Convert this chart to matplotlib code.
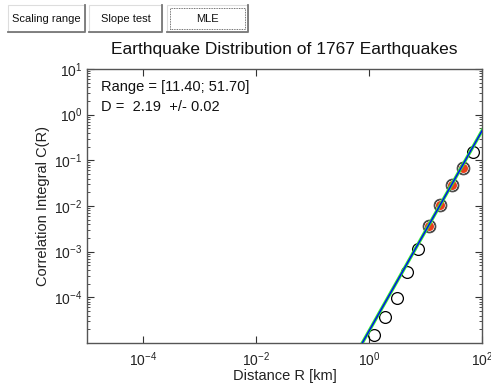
import matplotlib
matplotlib.use("Agg")
import matplotlib.pyplot as plt
import numpy as np
from matplotlib.patches import Rectangle
from matplotlib.lines import Line2D
from matplotlib.ticker import LogLocator, NullLocator, NullFormatter, FixedLocator, FuncFormatter

plt.rcParams['font.family'] = ['Liberation Sans', 'DejaVu Sans']
plt.rcParams['mathtext.fontset'] = 'custom'
plt.rcParams['mathtext.rm'] = 'Liberation Sans'
plt.rcParams['mathtext.it'] = 'Liberation Sans'

# data
r_values = [1.24, 1.94, 3.1, 4.76, 7.3, 11.5, 18.1, 29.4, 45.4, 69.3]
c_values = [1.5e-5, 3.8e-5, 9.5e-5, 3.5e-4, 1.16e-3, 3.7e-3, 0.0105, 0.0288, 0.069, 0.155]
range_lo, range_hi = 11.40, 51.70
slope_D = 2.19
slope_err = 0.02
fit_anchor_r, fit_anchor_c = 18.1, 0.0105
x_ticks = [1e-4, 1e-2, 1e0, 1e2]
y_ticks = [1e-4, 1e-3, 1e-2, 1e-1, 1e0, 1e1]
button_labels = ["Scaling range", "Slope test", "MLE"]
title = "Earthquake Distribution of 1767 Earthquakes"

W, H = 491, 385
fig = plt.figure(figsize=(W/100, H/100), dpi=100)
ax = fig.add_axes([87/W, 1-343/H, 395/W, 274/H])

r = np.array(r_values)
c = np.array(c_values)
ax.plot(r, c, 'o', mfc='none', mec='black', ms=8.5, mew=0.9, zorder=3)
sel = (r >= range_lo) & (r <= range_hi)
ax.plot(r[sel], c[sel], 'o', mfc='none', mec='#555555', ms=9, mew=0.9, zorder=4)
ax.plot(r[sel], c[sel], 'o', color='#e8401c', ms=6.5, mew=0, zorder=5)

xf = np.array([1e-2, 1e3])
yf = fit_anchor_c * (xf / fit_anchor_r) ** slope_D
ax.plot(xf, yf, color='#33ee33', lw=2.4, zorder=6)
ax.plot(xf, yf, color='#0000ff', lw=1.0, zorder=7)

ax.set_xscale('log')
ax.set_yscale('log')
ax.set_xlim(1e-5, 1e2)
ax.set_ylim(1e-5, 1e1)
ax.xaxis.set_major_locator(FixedLocator(x_ticks))
ax.xaxis.set_minor_locator(NullLocator())
ax.yaxis.set_major_locator(FixedLocator(y_ticks))
ax.yaxis.set_minor_locator(LogLocator(base=10, subs=np.arange(2, 10), numticks=20))
ax.yaxis.set_minor_formatter(NullFormatter())

def fmt(v, pos):
    e = int(round(np.log10(v)))
    return r'$10^{%d}$' % e
ax.xaxis.set_major_formatter(FuncFormatter(fmt))
ax.yaxis.set_major_formatter(FuncFormatter(fmt))

ax.tick_params(which='both', direction='in', top=True, right=True, colors='#333333',
               labelcolor='#222222', labelsize=10)
ax.tick_params(which='major', length=5, width=0.8)
ax.tick_params(which='minor', length=2.5, width=0.6)
ax.tick_params(axis='x', pad=5)
for s in ax.spines.values():
    s.set_color('#555555')
    s.set_linewidth(1.0)

ax.set_xlabel('Distance R [km]', fontsize=10.5, color='#222222', labelpad=0)
ax.set_ylabel('Correlation Integral C(R)', fontsize=10.5, color='#222222', labelpad=3)
ax.set_title(title, fontsize=12.5, color='#111111', pad=11)

ax.text(0.036, 0.935, 'Range = [%.2f; %.2f]' % (range_lo, range_hi), transform=ax.transAxes,
        fontsize=10.5, va='center', ha='left', color='#111111')
ax.text(0.036, 0.862, 'D =  %.2f  +/- %.2f' % (slope_D, slope_err), transform=ax.transAxes,
        fontsize=10.5, va='center', ha='left', color='#111111')

# buttons
btns = [(8, 85), (89, 162), (167, 248)]
for (x0, x1), lab in zip(btns, button_labels):
    y0, y1 = 5, 32
    fig.patches.append(Rectangle((x0/W, 1-y1/H), (x1-x0)/W, (y1-y0)/H, transform=fig.transFigure,
                                 facecolor='white', edgecolor='#dddddd', lw=0.8))
    fig.lines.append(Line2D([x0/W, x1/W, x1/W], [1-y1/H, 1-y1/H, 1-y0/H], transform=fig.transFigure,
                            color='#777777', lw=1.3))
    if lab == 'MLE':
        fig.patches.append(Rectangle(((x0+3)/W, 1-(y1-3)/H), (x1-x0-6)/W, (y1-y0-6)/H,
                                     transform=fig.transFigure, facecolor='none',
                                     edgecolor='#444444', lw=0.6, ls=(0, (1, 1))))
    fig.text((x0+x1)/2/W, 1-(y0+y1)/2/H, lab, ha='center', va='center', fontsize=8, color='#111111')

fig.savefig('out.png', dpi=100)
